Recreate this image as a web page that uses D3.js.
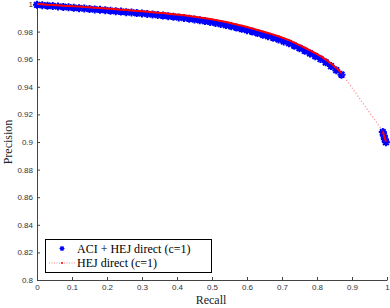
<!DOCTYPE html>
<html><head><meta charset="utf-8">
<script src="https://cdn.jsdelivr.net/npm/d3@7/dist/d3.min.js"></script>
<style>body{margin:0;background:#fff}svg{display:block}</style>
</head><body>
<script>
const recall = [0.000,0.015,0.030,0.045,0.060,0.075,0.090,0.105,0.120,0.135,0.150,0.165,0.180,0.195,0.210,0.225,0.240,0.255,0.270,0.285,0.300,0.315,0.330,0.345,0.360,0.375,0.390,0.405,0.420,0.435,0.450,0.465,0.480,0.495,0.510,0.525,0.540,0.555,0.570,0.585,0.600,0.615,0.630,0.645,0.660,0.675,0.690,0.705,0.720,0.735,0.750,0.765,0.780,0.795,0.810,0.825,0.840,0.855,0.870,0.988,0.991,0.994,0.997];
const precHEJ = [1.0000,0.9998,0.9995,0.9993,0.9991,0.9988,0.9986,0.9983,0.9981,0.9978,0.9976,0.9973,0.9971,0.9968,0.9965,0.9962,0.9959,0.9956,0.9953,0.9950,0.9947,0.9944,0.9941,0.9937,0.9934,0.9930,0.9926,0.9922,0.9918,0.9913,0.9908,0.9903,0.9897,0.9891,0.9884,0.9877,0.9869,0.9861,0.9852,0.9843,0.9833,0.9823,0.9812,0.9801,0.9790,0.9778,0.9766,0.9752,0.9738,0.9720,0.9702,0.9683,0.9664,0.9644,0.9622,0.9597,0.9569,0.9537,0.9500,0.9078,0.9050,0.9025,0.9003];
const precACI = [0.9994,0.9991,0.9988,0.9985,0.9982,0.9979,0.9976,0.9973,0.9970,0.9967,0.9964,0.9961,0.9958,0.9955,0.9951,0.9948,0.9945,0.9941,0.9938,0.9934,0.9931,0.9927,0.9924,0.9920,0.9916,0.9912,0.9907,0.9903,0.9898,0.9893,0.9888,0.9882,0.9876,0.9869,0.9862,0.9855,0.9847,0.9838,0.9829,0.9820,0.9810,0.9800,0.9789,0.9778,0.9767,0.9755,0.9743,0.9729,0.9715,0.9698,0.9680,0.9661,0.9642,0.9622,0.9601,0.9577,0.9550,0.9520,0.9488,0.9072,0.9045,0.9020,0.8998];
const xTicks = [0,0.1,0.2,0.3,0.4,0.5,0.6,0.7,0.8,0.9,1];
const yTicks = [0.8,0.82,0.84,0.86,0.88,0.9,0.92,0.94,0.96,0.98,1];
const legendLabels = ["ACI + HEJ direct (c=1)", "HEJ direct (c=1)"];

const W = 390, H = 308;
const svg = d3.select("body").append("svg").attr("width", W).attr("height", H);
const x = d3.scaleLinear().domain([0,1]).range([37,387]);
const y = d3.scaleLinear().domain([0.8,1]).range([280,4]);

const axisColor = "#444";
const gx = svg.append("g").attr("transform","translate(0,280)")
  .call(d3.axisBottom(x).tickValues(xTicks).tickFormat(d3.format("")).tickSizeInner(-3).tickSizeOuter(0).tickPadding(4));
const gy = svg.append("g").attr("transform","translate(37,0)")
  .call(d3.axisLeft(y).tickValues(yTicks).tickFormat(d3.format("")).tickSizeInner(-3).tickSizeOuter(0).tickPadding(4));
[gx, gy].forEach(g => {
  g.select(".domain").attr("stroke", axisColor);
  g.selectAll(".tick line").attr("stroke", axisColor);
  g.selectAll(".tick text").attr("fill", "#333").style("font-family","Liberation Sans, Arial, sans-serif").style("font-size","8px");
});

const pts = recall.map((r,i) => ({r, a: precACI[i], h: precHEJ[i]}));

// asterisk marker
function star(sz){
  const s = sz/2, d = s*0.707;
  return `M${-s},0L${s},0M0,${-s}L0,${s}M${-d},${-d}L${d},${d}M${-d},${d}L${d},${-d}`;
}
svg.append("g").selectAll("path").data(pts).join("path")
  .attr("transform", d => `translate(${x(d.r)},${y(d.a)})`)
  .attr("d", star(8)).attr("stroke", "#0000ff").attr("stroke-width", 2).attr("fill","none");

const line = d3.line().x(d => x(d.r)).y(d => y(d.h));
// dotted line over the whole series
svg.append("path").datum(pts).attr("d", line).attr("fill","none")
  .attr("stroke","#ff3030").attr("stroke-width",1.2).attr("stroke-dasharray","1.2,2").attr("opacity",0.55);
// dense parts look solid
const groups = [pts.slice(0,59), pts.slice(59)];
groups.forEach(g => svg.append("path").datum(g).attr("d", line).attr("fill","none")
  .attr("stroke","#ff0000").attr("stroke-width",2));

// axis labels
svg.append("text").attr("x", 211).attr("y", 304).attr("text-anchor","middle")
  .style("font-family","Liberation Serif, Times New Roman, serif").style("font-size","12px").attr("fill","#222").text("Recall");
svg.append("text").attr("transform","translate(12,142) rotate(-90)").attr("text-anchor","middle")
  .style("font-family","Liberation Serif, Times New Roman, serif").style("font-size","12px").attr("fill","#222").text("Precision");

// legend
const lg = svg.append("g");
lg.append("rect").attr("x",45.5).attr("y",239.5).attr("width",166).attr("height",33)
  .attr("fill","#fff").attr("stroke","#000").attr("stroke-width",1);
lg.append("path").attr("transform","translate(62,248.5)").attr("d", star(5)).attr("stroke","#0000ff").attr("stroke-width",1.2);
lg.append("line").attr("x1",49).attr("x2",75).attr("y1",263).attr("y2",263)
  .attr("stroke","#ff3030").attr("stroke-width",1).attr("stroke-dasharray","1,1.5").attr("opacity",0.6);
lg.append("circle").attr("cx",62).attr("cy",263).attr("r",1).attr("fill","#ff0000");
lg.selectAll("text.l").data(legendLabels).join("text").attr("class","l")
  .attr("x",77).attr("y",(d,i)=>253 + i*14)
  .style("font-family","Liberation Serif, Times New Roman, serif").style("font-size","12px").attr("fill","#000").text(d=>d);
</script>
</body></html>
